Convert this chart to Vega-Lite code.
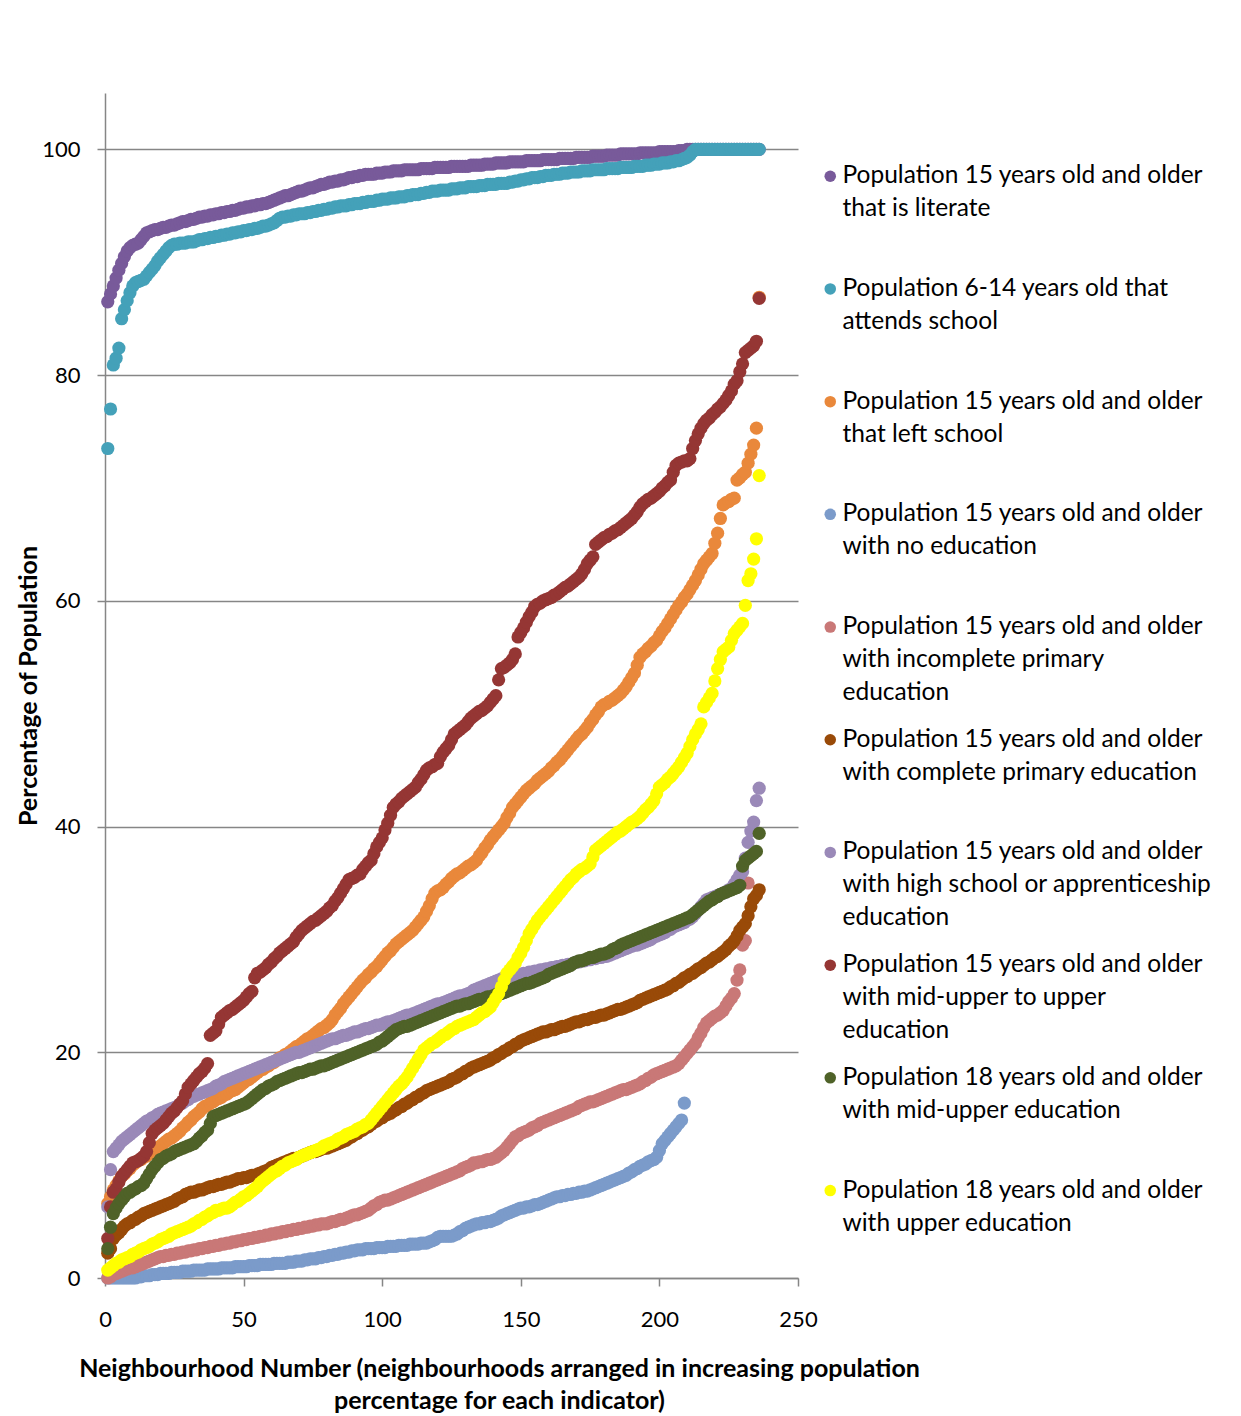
{
  "$schema": "https://vega.github.io/schema/vega-lite/v6.json",
  "width": 693,
  "height": 1185,
  "autosize": "none",
  "padding": {"left": 105, "top": 93, "right": 443, "bottom": 138},
  "background": "white",
  "config": {
    "font": "Lato",
    "view": {"stroke": null},
    "axis": {
      "domainColor": "#868686", "domainWidth": 1.5,
      "tickColor": "#868686", "tickWidth": 1.5, "tickSize": 8,
      "gridColor": "#868686", "gridWidth": 1.5,
      "labelColor": "#000000", "labelFont": "Lato", "labelFontSize": 22,
      "titleColor": "#000000", "titleFont": "Lato", "titleFontSize": 25, "titleFontWeight": "bold",
      "labelOverlap": false, "labelFlush": false
    }
  },
  "data": {"values": [
    {"n":1,"a":86.5,"b":73.5,"c":6.6,"d":0,"e":0,"f":2.2,"g":6.3,"h":3.5,"i":2.6,"j":0.7},
    {"n":2,"a":87.2,"b":77.0,"c":7.2,"d":0,"e":0.1,"f":2.6,"g":9.6,"h":6.3,"i":4.5,"j":0.9},
    {"n":3,"a":87.9,"b":80.9,"c":7.8,"d":0,"e":0.3,"f":3.5,"g":11.2,"h":7.6,"i":5.7,"j":1.1},
    {"n":4,"a":88.6,"b":81.5,"c":8.2,"d":0,"e":0.4,"f":3.8,"g":11.5,"h":7.9,"i":6.2,"j":1.3},
    {"n":5,"a":89.3,"b":82.4,"c":8.6,"d":0,"e":0.5,"f":4.0,"g":11.8,"h":8.5,"i":6.6,"j":1.4},
    {"n":6,"a":89.9,"b":85.0,"c":9.0,"d":0,"e":0.6,"f":4.3,"g":12.1,"h":9.0,"i":6.9,"j":1.6},
    {"n":7,"a":90.5,"b":85.8,"c":9.2,"d":0,"e":0.7,"f":4.6,"g":12.3,"h":9.3,"i":7.2,"j":1.7},
    {"n":8,"a":91.0,"b":86.6,"c":9.5,"d":0,"e":0.8,"f":4.8,"g":12.5,"h":9.6,"i":7.5,"j":1.8},
    {"n":9,"a":91.3,"b":87.3,"c":9.7,"d":0,"e":0.9,"f":4.9,"g":12.7,"h":9.9,"i":7.6,"j":1.9},
    {"n":10,"a":91.5,"b":87.9,"c":10.0,"d":0,"e":0.9,"f":5.1,"g":12.9,"h":10.2,"i":7.8,"j":2.1},
    {"n":11,"a":91.6,"b":88.2,"c":10.2,"d":0,"e":1.0,"f":5.2,"g":13.1,"h":10.3,"i":7.9,"j":2.2},
    {"n":12,"a":91.7,"b":88.3,"c":10.4,"d":0.1,"e":1.1,"f":5.4,"g":13.3,"h":10.4,"i":8.1,"j":2.3},
    {"n":13,"a":92.0,"b":88.4,"c":10.5,"d":0.1,"e":1.2,"f":5.5,"g":13.5,"h":10.6,"i":8.2,"j":2.5},
    {"n":14,"a":92.3,"b":88.5,"c":10.7,"d":0.2,"e":1.3,"f":5.7,"g":13.7,"h":10.8,"i":8.4,"j":2.6},
    {"n":15,"a":92.6,"b":88.8,"c":10.8,"d":0.2,"e":1.4,"f":5.8,"g":13.9,"h":11.2,"i":8.8,"j":2.7},
    {"n":16,"a":92.7,"b":89.1,"c":11.0,"d":0.2,"e":1.5,"f":5.9,"g":14.0,"h":12.0,"i":9.2,"j":2.8},
    {"n":17,"a":92.8,"b":89.4,"c":11.2,"d":0.3,"e":1.6,"f":6.0,"g":14.2,"h":12.8,"i":9.6,"j":3.0},
    {"n":18,"a":92.9,"b":89.7,"c":11.3,"d":0.3,"e":1.7,"f":6.1,"g":14.3,"h":13.1,"i":9.9,"j":3.1},
    {"n":19,"a":92.9,"b":90.1,"c":11.5,"d":0.3,"e":1.8,"f":6.2,"g":14.5,"h":13.3,"i":10.2,"j":3.2},
    {"n":20,"a":93.0,"b":90.4,"c":11.7,"d":0.4,"e":1.9,"f":6.3,"g":14.6,"h":13.5,"i":10.5,"j":3.4},
    {"n":21,"a":93.1,"b":90.7,"c":11.9,"d":0.4,"e":1.9,"f":6.4,"g":14.7,"h":13.7,"i":10.6,"j":3.5},
    {"n":22,"a":93.1,"b":91.0,"c":12.1,"d":0.4,"e":2.0,"f":6.5,"g":14.8,"h":14.0,"i":10.8,"j":3.6},
    {"n":23,"a":93.2,"b":91.3,"c":12.3,"d":0.4,"e":2.0,"f":6.6,"g":14.9,"h":14.3,"i":10.9,"j":3.7},
    {"n":24,"a":93.3,"b":91.5,"c":12.4,"d":0.5,"e":2.1,"f":6.7,"g":15.0,"h":14.6,"i":11.0,"j":3.9},
    {"n":25,"a":93.3,"b":91.6,"c":12.6,"d":0.5,"e":2.1,"f":6.8,"g":15.1,"h":14.8,"i":11.2,"j":4.0},
    {"n":26,"a":93.4,"b":91.6,"c":12.8,"d":0.5,"e":2.2,"f":7.0,"g":15.2,"h":15.1,"i":11.3,"j":4.1},
    {"n":27,"a":93.5,"b":91.7,"c":13.0,"d":0.5,"e":2.2,"f":7.1,"g":15.4,"h":15.4,"i":11.4,"j":4.2},
    {"n":28,"a":93.6,"b":91.7,"c":13.3,"d":0.6,"e":2.3,"f":7.2,"g":15.5,"h":15.7,"i":11.5,"j":4.3},
    {"n":29,"a":93.6,"b":91.7,"c":13.5,"d":0.6,"e":2.3,"f":7.4,"g":15.7,"h":16.3,"i":11.6,"j":4.4},
    {"n":30,"a":93.7,"b":91.8,"c":13.8,"d":0.6,"e":2.4,"f":7.5,"g":15.8,"h":16.9,"i":11.7,"j":4.5},
    {"n":31,"a":93.8,"b":91.8,"c":14.0,"d":0.6,"e":2.4,"f":7.6,"g":16.0,"h":17.2,"i":11.8,"j":4.6},
    {"n":32,"a":93.8,"b":91.8,"c":14.3,"d":0.7,"e":2.5,"f":7.6,"g":16.1,"h":17.5,"i":11.9,"j":4.8},
    {"n":33,"a":93.9,"b":91.9,"c":14.5,"d":0.7,"e":2.5,"f":7.7,"g":16.2,"h":17.8,"i":12.1,"j":4.9},
    {"n":34,"a":94.0,"b":92.0,"c":14.7,"d":0.7,"e":2.6,"f":7.8,"g":16.3,"h":18.1,"i":12.4,"j":5.1},
    {"n":35,"a":94.0,"b":92.0,"c":15.0,"d":0.7,"e":2.6,"f":7.8,"g":16.4,"h":18.3,"i":12.6,"j":5.2},
    {"n":36,"a":94.1,"b":92.1,"c":15.2,"d":0.7,"e":2.7,"f":7.9,"g":16.5,"h":18.6,"i":12.9,"j":5.4},
    {"n":37,"a":94.1,"b":92.1,"c":15.3,"d":0.8,"e":2.7,"f":8.0,"g":16.6,"h":19.0,"i":13.1,"j":5.5},
    {"n":38,"a":94.2,"b":92.2,"c":15.5,"d":0.8,"e":2.8,"f":8.1,"g":16.7,"h":21.5,"i":13.7,"j":5.7},
    {"n":39,"a":94.2,"b":92.2,"c":15.6,"d":0.8,"e":2.8,"f":8.1,"g":16.8,"h":21.7,"i":14.3,"j":5.8},
    {"n":40,"a":94.3,"b":92.3,"c":15.8,"d":0.8,"e":2.9,"f":8.2,"g":17.0,"h":21.9,"i":14.4,"j":6.0},
    {"n":41,"a":94.3,"b":92.3,"c":15.9,"d":0.8,"e":2.9,"f":8.3,"g":17.1,"h":22.5,"i":14.5,"j":6.0},
    {"n":42,"a":94.4,"b":92.4,"c":16.0,"d":0.9,"e":3.0,"f":8.3,"g":17.2,"h":23.1,"i":14.6,"j":6.1},
    {"n":43,"a":94.4,"b":92.4,"c":16.2,"d":0.9,"e":3.0,"f":8.4,"g":17.4,"h":23.3,"i":14.7,"j":6.2},
    {"n":44,"a":94.5,"b":92.5,"c":16.3,"d":0.9,"e":3.1,"f":8.5,"g":17.5,"h":23.5,"i":14.8,"j":6.2},
    {"n":45,"a":94.5,"b":92.5,"c":16.5,"d":0.9,"e":3.1,"f":8.5,"g":17.6,"h":23.7,"i":14.9,"j":6.3},
    {"n":46,"a":94.6,"b":92.6,"c":16.6,"d":0.9,"e":3.2,"f":8.6,"g":17.7,"h":23.8,"i":15.0,"j":6.5},
    {"n":47,"a":94.6,"b":92.6,"c":16.7,"d":1.0,"e":3.2,"f":8.7,"g":17.8,"h":24.0,"i":15.1,"j":6.7},
    {"n":48,"a":94.7,"b":92.7,"c":16.9,"d":1.0,"e":3.3,"f":8.8,"g":17.9,"h":24.2,"i":15.2,"j":6.8},
    {"n":49,"a":94.8,"b":92.7,"c":17.1,"d":1.0,"e":3.3,"f":8.8,"g":18.0,"h":24.4,"i":15.3,"j":7.0},
    {"n":50,"a":94.8,"b":92.8,"c":17.3,"d":1.0,"e":3.4,"f":8.9,"g":18.1,"h":24.6,"i":15.4,"j":7.2},
    {"n":51,"a":94.9,"b":92.8,"c":17.5,"d":1.0,"e":3.4,"f":8.9,"g":18.2,"h":24.9,"i":15.5,"j":7.3},
    {"n":52,"a":94.9,"b":92.9,"c":17.6,"d":1.1,"e":3.5,"f":9.0,"g":18.3,"h":25.2,"i":15.7,"j":7.5},
    {"n":53,"a":95.0,"b":92.9,"c":17.8,"d":1.1,"e":3.5,"f":9.1,"g":18.4,"h":25.4,"i":15.9,"j":7.7},
    {"n":54,"a":95.0,"b":93.0,"c":18.0,"d":1.1,"e":3.6,"f":9.1,"g":18.5,"h":26.6,"i":16.1,"j":7.9},
    {"n":55,"a":95.1,"b":93.0,"c":18.2,"d":1.1,"e":3.6,"f":9.2,"g":18.6,"h":27.0,"i":16.3,"j":8.1},
    {"n":56,"a":95.1,"b":93.1,"c":18.4,"d":1.2,"e":3.7,"f":9.3,"g":18.7,"h":27.1,"i":16.5,"j":8.4},
    {"n":57,"a":95.2,"b":93.2,"c":18.5,"d":1.2,"e":3.7,"f":9.4,"g":18.8,"h":27.3,"i":16.7,"j":8.6},
    {"n":58,"a":95.2,"b":93.2,"c":18.7,"d":1.2,"e":3.8,"f":9.5,"g":18.9,"h":27.5,"i":16.8,"j":8.8},
    {"n":59,"a":95.3,"b":93.3,"c":18.8,"d":1.2,"e":3.8,"f":9.6,"g":19.0,"h":27.8,"i":17.0,"j":9.0},
    {"n":60,"a":95.4,"b":93.4,"c":19.0,"d":1.2,"e":3.9,"f":9.8,"g":19.1,"h":28.0,"i":17.1,"j":9.2},
    {"n":61,"a":95.5,"b":93.5,"c":19.1,"d":1.3,"e":3.9,"f":9.9,"g":19.2,"h":28.3,"i":17.2,"j":9.4},
    {"n":62,"a":95.6,"b":93.7,"c":19.3,"d":1.3,"e":4.0,"f":10.0,"g":19.3,"h":28.5,"i":17.4,"j":9.5},
    {"n":63,"a":95.7,"b":93.9,"c":19.5,"d":1.3,"e":4.0,"f":10.1,"g":19.4,"h":28.8,"i":17.5,"j":9.7},
    {"n":64,"a":95.8,"b":94.0,"c":19.6,"d":1.3,"e":4.1,"f":10.2,"g":19.5,"h":29.0,"i":17.6,"j":9.9},
    {"n":65,"a":95.9,"b":94.0,"c":19.8,"d":1.3,"e":4.1,"f":10.3,"g":19.6,"h":29.2,"i":17.7,"j":10.0},
    {"n":66,"a":95.9,"b":94.1,"c":19.9,"d":1.4,"e":4.2,"f":10.4,"g":19.7,"h":29.4,"i":17.8,"j":10.2},
    {"n":67,"a":96.0,"b":94.1,"c":20.1,"d":1.4,"e":4.2,"f":10.5,"g":19.8,"h":29.6,"i":17.9,"j":10.3},
    {"n":68,"a":96.1,"b":94.2,"c":20.3,"d":1.4,"e":4.3,"f":10.6,"g":19.9,"h":29.8,"i":18.0,"j":10.4},
    {"n":69,"a":96.2,"b":94.2,"c":20.5,"d":1.5,"e":4.3,"f":10.6,"g":20.0,"h":30.2,"i":18.1,"j":10.5},
    {"n":70,"a":96.3,"b":94.3,"c":20.6,"d":1.5,"e":4.4,"f":10.7,"g":20.0,"h":30.5,"i":18.2,"j":10.7},
    {"n":71,"a":96.3,"b":94.3,"c":20.8,"d":1.5,"e":4.4,"f":10.8,"g":20.1,"h":30.8,"i":18.2,"j":10.8},
    {"n":72,"a":96.4,"b":94.3,"c":21.0,"d":1.6,"e":4.5,"f":10.9,"g":20.2,"h":31.0,"i":18.3,"j":10.9},
    {"n":73,"a":96.5,"b":94.4,"c":21.2,"d":1.6,"e":4.5,"f":11.0,"g":20.3,"h":31.2,"i":18.4,"j":11.0},
    {"n":74,"a":96.6,"b":94.4,"c":21.3,"d":1.7,"e":4.6,"f":11.1,"g":20.4,"h":31.4,"i":18.5,"j":11.1},
    {"n":75,"a":96.6,"b":94.5,"c":21.5,"d":1.7,"e":4.6,"f":11.2,"g":20.5,"h":31.6,"i":18.5,"j":11.2},
    {"n":76,"a":96.7,"b":94.5,"c":21.7,"d":1.7,"e":4.7,"f":11.2,"g":20.6,"h":31.7,"i":18.6,"j":11.3},
    {"n":77,"a":96.8,"b":94.6,"c":21.9,"d":1.8,"e":4.7,"f":11.3,"g":20.7,"h":31.9,"i":18.7,"j":11.4},
    {"n":78,"a":96.9,"b":94.6,"c":22.1,"d":1.8,"e":4.8,"f":11.4,"g":20.8,"h":32.1,"i":18.8,"j":11.5},
    {"n":79,"a":96.9,"b":94.7,"c":22.2,"d":1.9,"e":4.8,"f":11.5,"g":20.9,"h":32.3,"i":18.8,"j":11.7},
    {"n":80,"a":97.0,"b":94.7,"c":22.4,"d":1.9,"e":4.8,"f":11.5,"g":21.0,"h":32.5,"i":18.9,"j":11.8},
    {"n":81,"a":97.1,"b":94.8,"c":22.6,"d":2.0,"e":4.9,"f":11.6,"g":21.1,"h":32.8,"i":19.0,"j":11.9},
    {"n":82,"a":97.1,"b":94.8,"c":22.9,"d":2.0,"e":5.0,"f":11.7,"g":21.2,"h":33.0,"i":19.1,"j":12.0},
    {"n":83,"a":97.2,"b":94.9,"c":23.3,"d":2.1,"e":5.0,"f":11.8,"g":21.2,"h":33.4,"i":19.2,"j":12.1},
    {"n":84,"a":97.2,"b":94.9,"c":23.6,"d":2.1,"e":5.1,"f":11.9,"g":21.3,"h":33.7,"i":19.3,"j":12.3},
    {"n":85,"a":97.3,"b":95.0,"c":23.9,"d":2.2,"e":5.2,"f":12.0,"g":21.4,"h":34.1,"i":19.4,"j":12.4},
    {"n":86,"a":97.3,"b":95.0,"c":24.3,"d":2.2,"e":5.2,"f":12.1,"g":21.5,"h":34.5,"i":19.5,"j":12.5},
    {"n":87,"a":97.4,"b":95.0,"c":24.6,"d":2.3,"e":5.3,"f":12.2,"g":21.5,"h":34.9,"i":19.6,"j":12.7},
    {"n":88,"a":97.5,"b":95.1,"c":24.9,"d":2.3,"e":5.4,"f":12.4,"g":21.6,"h":35.3,"i":19.7,"j":12.8},
    {"n":89,"a":97.5,"b":95.1,"c":25.2,"d":2.4,"e":5.5,"f":12.5,"g":21.7,"h":35.4,"i":19.8,"j":12.9},
    {"n":90,"a":97.6,"b":95.2,"c":25.5,"d":2.4,"e":5.6,"f":12.7,"g":21.8,"h":35.5,"i":19.9,"j":13.0},
    {"n":91,"a":97.6,"b":95.2,"c":25.8,"d":2.5,"e":5.6,"f":12.8,"g":21.8,"h":35.7,"i":20.0,"j":13.2},
    {"n":92,"a":97.7,"b":95.2,"c":26.1,"d":2.5,"e":5.7,"f":13.0,"g":21.9,"h":35.8,"i":20.1,"j":13.3},
    {"n":93,"a":97.7,"b":95.3,"c":26.4,"d":2.5,"e":5.8,"f":13.1,"g":22.0,"h":36.2,"i":20.2,"j":13.4},
    {"n":94,"a":97.8,"b":95.3,"c":26.6,"d":2.6,"e":5.9,"f":13.3,"g":22.1,"h":36.5,"i":20.3,"j":13.6},
    {"n":95,"a":97.8,"b":95.4,"c":26.9,"d":2.6,"e":6.0,"f":13.4,"g":22.1,"h":36.8,"i":20.4,"j":13.7},
    {"n":96,"a":97.8,"b":95.4,"c":27.1,"d":2.6,"e":6.2,"f":13.6,"g":22.2,"h":37.0,"i":20.5,"j":14.0},
    {"n":97,"a":97.8,"b":95.4,"c":27.4,"d":2.6,"e":6.4,"f":13.8,"g":22.3,"h":37.6,"i":20.6,"j":14.3},
    {"n":98,"a":97.9,"b":95.5,"c":27.6,"d":2.7,"e":6.5,"f":13.9,"g":22.4,"h":38.2,"i":20.7,"j":14.6},
    {"n":99,"a":97.9,"b":95.5,"c":27.9,"d":2.7,"e":6.7,"f":14.1,"g":22.4,"h":38.6,"i":20.9,"j":14.9},
    {"n":100,"a":97.9,"b":95.6,"c":28.2,"d":2.7,"e":6.8,"f":14.2,"g":22.5,"h":39.0,"i":21.0,"j":15.2},
    {"n":101,"a":98.0,"b":95.6,"c":28.5,"d":2.7,"e":6.9,"f":14.4,"g":22.6,"h":39.7,"i":21.2,"j":15.5},
    {"n":102,"a":98.0,"b":95.6,"c":28.8,"d":2.8,"e":6.9,"f":14.5,"g":22.7,"h":40.3,"i":21.4,"j":15.8},
    {"n":103,"a":98.0,"b":95.7,"c":29.0,"d":2.8,"e":7.0,"f":14.6,"g":22.7,"h":41.0,"i":21.6,"j":16.1},
    {"n":104,"a":98.1,"b":95.7,"c":29.3,"d":2.8,"e":7.1,"f":14.8,"g":22.8,"h":41.7,"i":21.8,"j":16.4},
    {"n":105,"a":98.1,"b":95.7,"c":29.6,"d":2.8,"e":7.2,"f":14.9,"g":22.9,"h":42.0,"i":22.0,"j":16.7},
    {"n":106,"a":98.1,"b":95.8,"c":29.8,"d":2.9,"e":7.3,"f":15.1,"g":23.0,"h":42.2,"i":22.1,"j":17.0},
    {"n":107,"a":98.1,"b":95.8,"c":30.0,"d":2.9,"e":7.4,"f":15.2,"g":23.1,"h":42.5,"i":22.2,"j":17.2},
    {"n":108,"a":98.2,"b":95.8,"c":30.2,"d":2.9,"e":7.5,"f":15.4,"g":23.2,"h":42.7,"i":22.3,"j":17.5},
    {"n":109,"a":98.2,"b":95.9,"c":30.4,"d":2.9,"e":7.6,"f":15.5,"g":23.3,"h":42.9,"i":22.3,"j":17.8},
    {"n":110,"a":98.2,"b":95.9,"c":30.6,"d":3.0,"e":7.7,"f":15.7,"g":23.3,"h":43.1,"i":22.4,"j":18.2},
    {"n":111,"a":98.2,"b":96.0,"c":30.8,"d":3.0,"e":7.8,"f":15.8,"g":23.4,"h":43.3,"i":22.5,"j":18.6},
    {"n":112,"a":98.2,"b":96.0,"c":31.1,"d":3.0,"e":7.9,"f":16.0,"g":23.5,"h":43.5,"i":22.6,"j":19.0},
    {"n":113,"a":98.2,"b":96.0,"c":31.4,"d":3.0,"e":8.0,"f":16.1,"g":23.6,"h":43.9,"i":22.7,"j":19.4},
    {"n":114,"a":98.3,"b":96.1,"c":31.7,"d":3.1,"e":8.1,"f":16.3,"g":23.7,"h":44.2,"i":22.8,"j":19.8},
    {"n":115,"a":98.3,"b":96.1,"c":32.0,"d":3.1,"e":8.2,"f":16.4,"g":23.8,"h":44.6,"i":22.9,"j":20.2},
    {"n":116,"a":98.3,"b":96.2,"c":32.5,"d":3.1,"e":8.3,"f":16.6,"g":23.9,"h":45.0,"i":23.0,"j":20.4},
    {"n":117,"a":98.3,"b":96.2,"c":33.0,"d":3.2,"e":8.4,"f":16.7,"g":24.0,"h":45.2,"i":23.1,"j":20.6},
    {"n":118,"a":98.3,"b":96.3,"c":33.6,"d":3.3,"e":8.5,"f":16.8,"g":24.1,"h":45.3,"i":23.2,"j":20.8},
    {"n":119,"a":98.4,"b":96.3,"c":34.1,"d":3.4,"e":8.6,"f":16.9,"g":24.2,"h":45.5,"i":23.3,"j":20.9},
    {"n":120,"a":98.4,"b":96.3,"c":34.3,"d":3.6,"e":8.7,"f":17.0,"g":24.3,"h":45.6,"i":23.4,"j":21.1},
    {"n":121,"a":98.4,"b":96.4,"c":34.4,"d":3.7,"e":8.8,"f":17.1,"g":24.3,"h":46.2,"i":23.5,"j":21.3},
    {"n":122,"a":98.4,"b":96.4,"c":34.6,"d":3.7,"e":8.9,"f":17.2,"g":24.4,"h":46.6,"i":23.6,"j":21.5},
    {"n":123,"a":98.4,"b":96.4,"c":34.9,"d":3.7,"e":9.0,"f":17.3,"g":24.5,"h":46.9,"i":23.7,"j":21.6},
    {"n":124,"a":98.4,"b":96.4,"c":35.1,"d":3.7,"e":9.1,"f":17.4,"g":24.6,"h":47.2,"i":23.8,"j":21.8},
    {"n":125,"a":98.5,"b":96.5,"c":35.4,"d":3.7,"e":9.2,"f":17.6,"g":24.7,"h":47.7,"i":23.9,"j":22.0},
    {"n":126,"a":98.5,"b":96.5,"c":35.6,"d":3.8,"e":9.3,"f":17.7,"g":24.8,"h":48.2,"i":24.0,"j":22.1},
    {"n":127,"a":98.5,"b":96.5,"c":35.8,"d":3.9,"e":9.4,"f":17.8,"g":24.9,"h":48.4,"i":24.1,"j":22.3},
    {"n":128,"a":98.5,"b":96.6,"c":35.9,"d":4.1,"e":9.5,"f":18.0,"g":25.0,"h":48.6,"i":24.1,"j":22.4},
    {"n":129,"a":98.5,"b":96.6,"c":36.1,"d":4.2,"e":9.7,"f":18.1,"g":25.0,"h":48.8,"i":24.2,"j":22.5},
    {"n":130,"a":98.5,"b":96.6,"c":36.3,"d":4.4,"e":9.8,"f":18.3,"g":25.1,"h":49.0,"i":24.3,"j":22.6},
    {"n":131,"a":98.5,"b":96.7,"c":36.5,"d":4.5,"e":9.9,"f":18.4,"g":25.2,"h":49.3,"i":24.3,"j":22.7},
    {"n":132,"a":98.6,"b":96.7,"c":36.6,"d":4.6,"e":10.0,"f":18.6,"g":25.3,"h":49.6,"i":24.4,"j":22.8},
    {"n":133,"a":98.6,"b":96.7,"c":36.8,"d":4.7,"e":10.2,"f":18.7,"g":25.5,"h":49.8,"i":24.5,"j":22.9},
    {"n":134,"a":98.6,"b":96.7,"c":37.0,"d":4.8,"e":10.2,"f":18.8,"g":25.6,"h":50.0,"i":24.6,"j":23.1},
    {"n":135,"a":98.6,"b":96.8,"c":37.4,"d":4.8,"e":10.3,"f":18.9,"g":25.7,"h":50.2,"i":24.7,"j":23.3},
    {"n":136,"a":98.6,"b":96.8,"c":37.7,"d":4.9,"e":10.3,"f":19.0,"g":25.8,"h":50.3,"i":24.7,"j":23.5},
    {"n":137,"a":98.7,"b":96.8,"c":38.1,"d":4.9,"e":10.4,"f":19.1,"g":25.9,"h":50.5,"i":24.8,"j":23.6},
    {"n":138,"a":98.7,"b":96.9,"c":38.4,"d":5.0,"e":10.5,"f":19.2,"g":26.0,"h":50.7,"i":24.9,"j":23.8},
    {"n":139,"a":98.7,"b":96.9,"c":38.8,"d":5.0,"e":10.5,"f":19.3,"g":26.1,"h":51.0,"i":24.9,"j":24.0},
    {"n":140,"a":98.7,"b":96.9,"c":39.1,"d":5.1,"e":10.6,"f":19.5,"g":26.2,"h":51.3,"i":25.0,"j":24.4},
    {"n":141,"a":98.8,"b":96.9,"c":39.4,"d":5.2,"e":10.7,"f":19.6,"g":26.3,"h":51.6,"i":25.1,"j":24.8},
    {"n":142,"a":98.8,"b":97.0,"c":39.7,"d":5.3,"e":10.9,"f":19.8,"g":26.4,"h":53.0,"i":25.2,"j":25.2},
    {"n":143,"a":98.8,"b":97.0,"c":40.0,"d":5.5,"e":11.1,"f":19.9,"g":26.5,"h":54.0,"i":25.2,"j":25.8},
    {"n":144,"a":98.8,"b":97.0,"c":40.3,"d":5.6,"e":11.3,"f":20.1,"g":26.6,"h":54.1,"i":25.3,"j":26.4},
    {"n":145,"a":98.8,"b":97.0,"c":40.8,"d":5.7,"e":11.6,"f":20.2,"g":26.7,"h":54.3,"i":25.4,"j":27.0},
    {"n":146,"a":98.9,"b":97.1,"c":41.2,"d":5.8,"e":11.9,"f":20.4,"g":26.7,"h":54.5,"i":25.5,"j":27.3},
    {"n":147,"a":98.9,"b":97.1,"c":41.7,"d":5.9,"e":12.2,"f":20.5,"g":26.8,"h":54.8,"i":25.6,"j":27.6},
    {"n":148,"a":98.9,"b":97.2,"c":42.0,"d":6.0,"e":12.5,"f":20.7,"g":26.8,"h":55.3,"i":25.7,"j":27.9},
    {"n":149,"a":98.9,"b":97.2,"c":42.3,"d":6.1,"e":12.6,"f":20.8,"g":26.9,"h":56.8,"i":25.8,"j":28.4},
    {"n":150,"a":98.9,"b":97.3,"c":42.6,"d":6.2,"e":12.8,"f":21.0,"g":26.9,"h":57.2,"i":25.9,"j":28.8},
    {"n":151,"a":98.9,"b":97.3,"c":42.9,"d":6.2,"e":12.9,"f":21.1,"g":27.0,"h":57.6,"i":26.0,"j":29.3},
    {"n":152,"a":99.0,"b":97.4,"c":43.2,"d":6.3,"e":13.0,"f":21.2,"g":27.0,"h":58.1,"i":26.1,"j":29.9},
    {"n":153,"a":99.0,"b":97.4,"c":43.4,"d":6.3,"e":13.1,"f":21.3,"g":27.1,"h":58.6,"i":26.1,"j":30.5},
    {"n":154,"a":99.0,"b":97.5,"c":43.6,"d":6.4,"e":13.3,"f":21.4,"g":27.1,"h":59.0,"i":26.2,"j":30.9},
    {"n":155,"a":99.0,"b":97.5,"c":43.8,"d":6.5,"e":13.4,"f":21.5,"g":27.2,"h":59.5,"i":26.3,"j":31.3},
    {"n":156,"a":99.0,"b":97.5,"c":44.1,"d":6.5,"e":13.5,"f":21.6,"g":27.2,"h":59.7,"i":26.4,"j":31.7},
    {"n":157,"a":99.0,"b":97.6,"c":44.3,"d":6.6,"e":13.7,"f":21.7,"g":27.3,"h":59.8,"i":26.5,"j":32.0},
    {"n":158,"a":99.1,"b":97.6,"c":44.5,"d":6.7,"e":13.8,"f":21.8,"g":27.3,"h":60.0,"i":26.6,"j":32.3},
    {"n":159,"a":99.1,"b":97.7,"c":44.7,"d":6.8,"e":13.9,"f":21.8,"g":27.4,"h":60.1,"i":26.7,"j":32.6},
    {"n":160,"a":99.1,"b":97.7,"c":44.9,"d":6.9,"e":14.0,"f":21.9,"g":27.4,"h":60.2,"i":26.9,"j":32.9},
    {"n":161,"a":99.1,"b":97.7,"c":45.2,"d":7.0,"e":14.1,"f":22.0,"g":27.5,"h":60.3,"i":27.0,"j":33.2},
    {"n":162,"a":99.1,"b":97.8,"c":45.4,"d":7.1,"e":14.2,"f":22.0,"g":27.5,"h":60.5,"i":27.1,"j":33.5},
    {"n":163,"a":99.1,"b":97.8,"c":45.7,"d":7.2,"e":14.3,"f":22.1,"g":27.6,"h":60.6,"i":27.2,"j":33.8},
    {"n":164,"a":99.2,"b":97.8,"c":45.9,"d":7.2,"e":14.4,"f":22.2,"g":27.6,"h":60.8,"i":27.3,"j":34.1},
    {"n":165,"a":99.2,"b":97.9,"c":46.2,"d":7.3,"e":14.5,"f":22.3,"g":27.7,"h":61.0,"i":27.4,"j":34.4},
    {"n":166,"a":99.2,"b":97.9,"c":46.5,"d":7.3,"e":14.6,"f":22.3,"g":27.7,"h":61.2,"i":27.5,"j":34.7},
    {"n":167,"a":99.2,"b":97.9,"c":46.8,"d":7.4,"e":14.7,"f":22.4,"g":27.8,"h":61.3,"i":27.6,"j":35.0},
    {"n":168,"a":99.2,"b":98.0,"c":47.1,"d":7.4,"e":14.8,"f":22.5,"g":27.8,"h":61.5,"i":27.7,"j":35.3},
    {"n":169,"a":99.2,"b":98.0,"c":47.4,"d":7.5,"e":14.9,"f":22.6,"g":27.9,"h":61.7,"i":27.9,"j":35.5},
    {"n":170,"a":99.3,"b":98.0,"c":47.7,"d":7.5,"e":15.0,"f":22.7,"g":28.0,"h":61.9,"i":28.0,"j":35.8},
    {"n":171,"a":99.3,"b":98.0,"c":48.0,"d":7.6,"e":15.2,"f":22.7,"g":28.0,"h":62.1,"i":28.1,"j":36.0},
    {"n":172,"a":99.3,"b":98.1,"c":48.2,"d":7.6,"e":15.3,"f":22.8,"g":28.1,"h":62.4,"i":28.1,"j":36.2},
    {"n":173,"a":99.3,"b":98.1,"c":48.5,"d":7.7,"e":15.4,"f":22.9,"g":28.1,"h":62.8,"i":28.2,"j":36.3},
    {"n":174,"a":99.3,"b":98.1,"c":48.8,"d":7.7,"e":15.5,"f":22.9,"g":28.2,"h":63.3,"i":28.3,"j":36.5},
    {"n":175,"a":99.3,"b":98.1,"c":49.2,"d":7.8,"e":15.6,"f":23.0,"g":28.2,"h":63.6,"i":28.4,"j":36.7},
    {"n":176,"a":99.4,"b":98.2,"c":49.5,"d":7.9,"e":15.6,"f":23.1,"g":28.3,"h":63.9,"i":28.4,"j":37.3},
    {"n":177,"a":99.4,"b":98.2,"c":49.9,"d":8.0,"e":15.7,"f":23.1,"g":28.3,"h":65.0,"i":28.5,"j":37.9},
    {"n":178,"a":99.4,"b":98.2,"c":50.2,"d":8.1,"e":15.8,"f":23.2,"g":28.4,"h":65.2,"i":28.6,"j":38.1},
    {"n":179,"a":99.4,"b":98.2,"c":50.6,"d":8.2,"e":15.9,"f":23.3,"g":28.4,"h":65.4,"i":28.7,"j":38.3},
    {"n":180,"a":99.4,"b":98.2,"c":50.8,"d":8.3,"e":16.0,"f":23.3,"g":28.5,"h":65.6,"i":28.7,"j":38.5},
    {"n":181,"a":99.5,"b":98.3,"c":50.9,"d":8.4,"e":16.1,"f":23.4,"g":28.5,"h":65.7,"i":28.8,"j":38.7},
    {"n":182,"a":99.5,"b":98.3,"c":51.1,"d":8.5,"e":16.2,"f":23.5,"g":28.6,"h":65.9,"i":28.9,"j":38.9},
    {"n":183,"a":99.5,"b":98.3,"c":51.2,"d":8.6,"e":16.3,"f":23.6,"g":28.7,"h":66.0,"i":29.1,"j":39.1},
    {"n":184,"a":99.5,"b":98.3,"c":51.4,"d":8.7,"e":16.4,"f":23.7,"g":28.8,"h":66.2,"i":29.2,"j":39.3},
    {"n":185,"a":99.5,"b":98.3,"c":51.6,"d":8.8,"e":16.5,"f":23.8,"g":28.9,"h":66.3,"i":29.3,"j":39.5},
    {"n":186,"a":99.6,"b":98.4,"c":51.8,"d":8.9,"e":16.6,"f":23.8,"g":29.0,"h":66.5,"i":29.5,"j":39.6},
    {"n":187,"a":99.6,"b":98.4,"c":52.1,"d":9.0,"e":16.7,"f":23.9,"g":29.1,"h":66.7,"i":29.6,"j":39.8},
    {"n":188,"a":99.6,"b":98.4,"c":52.4,"d":9.1,"e":16.7,"f":24.0,"g":29.2,"h":66.9,"i":29.7,"j":40.0},
    {"n":189,"a":99.6,"b":98.4,"c":52.8,"d":9.3,"e":16.8,"f":24.1,"g":29.3,"h":67.1,"i":29.8,"j":40.2},
    {"n":190,"a":99.6,"b":98.4,"c":53.2,"d":9.4,"e":16.9,"f":24.2,"g":29.4,"h":67.3,"i":29.9,"j":40.4},
    {"n":191,"a":99.6,"b":98.5,"c":53.6,"d":9.6,"e":17.0,"f":24.3,"g":29.5,"h":67.6,"i":30.0,"j":40.5},
    {"n":192,"a":99.6,"b":98.5,"c":54.3,"d":9.7,"e":17.1,"f":24.4,"g":29.5,"h":67.9,"i":30.1,"j":40.7},
    {"n":193,"a":99.7,"b":98.5,"c":55.0,"d":9.9,"e":17.2,"f":24.6,"g":29.6,"h":68.3,"i":30.2,"j":40.9},
    {"n":194,"a":99.7,"b":98.5,"c":55.3,"d":10.0,"e":17.4,"f":24.7,"g":29.7,"h":68.6,"i":30.3,"j":41.2},
    {"n":195,"a":99.7,"b":98.6,"c":55.5,"d":10.1,"e":17.5,"f":24.8,"g":29.8,"h":68.8,"i":30.4,"j":41.5},
    {"n":196,"a":99.7,"b":98.6,"c":55.8,"d":10.3,"e":17.7,"f":24.9,"g":29.9,"h":69.0,"i":30.5,"j":41.7},
    {"n":197,"a":99.7,"b":98.6,"c":56.0,"d":10.4,"e":17.8,"f":25.0,"g":30.0,"h":69.1,"i":30.6,"j":42.0},
    {"n":198,"a":99.7,"b":98.7,"c":56.3,"d":10.5,"e":18.0,"f":25.1,"g":30.2,"h":69.3,"i":30.7,"j":42.3},
    {"n":199,"a":99.7,"b":98.7,"c":56.5,"d":10.7,"e":18.1,"f":25.2,"g":30.3,"h":69.5,"i":30.8,"j":42.9},
    {"n":200,"a":99.8,"b":98.7,"c":56.9,"d":11.3,"e":18.2,"f":25.3,"g":30.4,"h":69.7,"i":30.9,"j":43.5},
    {"n":201,"a":99.8,"b":98.8,"c":57.3,"d":11.9,"e":18.3,"f":25.4,"g":30.5,"h":70.0,"i":31.0,"j":43.7},
    {"n":202,"a":99.8,"b":98.8,"c":57.6,"d":12.2,"e":18.4,"f":25.5,"g":30.6,"h":70.2,"i":31.1,"j":43.9},
    {"n":203,"a":99.8,"b":98.8,"c":58.0,"d":12.5,"e":18.5,"f":25.6,"g":30.8,"h":70.5,"i":31.2,"j":44.2},
    {"n":204,"a":99.8,"b":98.9,"c":58.4,"d":12.8,"e":18.6,"f":25.8,"g":30.9,"h":70.7,"i":31.3,"j":44.4},
    {"n":205,"a":99.8,"b":98.9,"c":58.8,"d":13.1,"e":18.7,"f":25.9,"g":31.1,"h":71.4,"i":31.4,"j":44.7},
    {"n":206,"a":99.8,"b":99.0,"c":59.2,"d":13.4,"e":18.8,"f":26.1,"g":31.2,"h":72.0,"i":31.5,"j":45.0},
    {"n":207,"a":99.9,"b":99.0,"c":59.6,"d":13.7,"e":19.0,"f":26.2,"g":31.3,"h":72.2,"i":31.6,"j":45.3},
    {"n":208,"a":99.9,"b":99.1,"c":59.9,"d":14.0,"e":19.3,"f":26.4,"g":31.4,"h":72.3,"i":31.7,"j":45.7},
    {"n":209,"a":99.9,"b":99.2,"c":60.3,"d":15.5,"e":19.6,"f":26.6,"g":31.5,"h":72.4,"i":31.8,"j":46.1},
    {"n":210,"a":100,"b":99.3,"c":60.6,"e":19.9,"f":26.7,"g":31.7,"h":72.4,"i":31.9,"j":46.5},
    {"n":211,"a":100,"b":99.5,"c":61.0,"e":20.2,"f":26.9,"g":31.8,"h":72.6,"i":32.0,"j":47.1},
    {"n":212,"a":100,"b":99.8,"c":61.4,"e":20.5,"f":27.0,"g":32.0,"h":73.5,"i":32.2,"j":47.7},
    {"n":213,"a":100,"b":100,"c":61.8,"e":20.8,"f":27.2,"g":32.3,"h":74.2,"i":32.4,"j":48.2},
    {"n":214,"a":100,"b":100,"c":62.3,"e":21.3,"f":27.4,"g":32.6,"h":74.8,"i":32.6,"j":48.6},
    {"n":215,"a":100,"b":100,"c":62.8,"e":21.7,"f":27.5,"g":32.9,"h":75.3,"i":32.8,"j":49.1},
    {"n":216,"a":100,"b":100,"c":63.3,"e":22.2,"f":27.7,"g":33.2,"h":75.7,"i":33.0,"j":50.6},
    {"n":217,"a":100,"b":100,"c":63.6,"e":22.6,"f":27.9,"g":33.5,"h":76.0,"i":33.2,"j":51.0},
    {"n":218,"a":100,"b":100,"c":63.9,"e":22.8,"f":28.0,"g":33.6,"h":76.2,"i":33.4,"j":51.4},
    {"n":219,"a":100,"b":100,"c":64.2,"e":23.0,"f":28.2,"g":33.7,"h":76.5,"i":33.5,"j":51.8},
    {"n":220,"a":100,"b":100,"c":65.1,"e":23.2,"f":28.4,"g":33.8,"h":76.7,"i":33.7,"j":52.9},
    {"n":221,"a":100,"b":100,"c":66.0,"e":23.3,"f":28.5,"g":33.9,"h":77.0,"i":33.8,"j":54.0},
    {"n":222,"a":100,"b":100,"c":67.3,"e":23.5,"f":28.7,"g":34.0,"h":77.2,"i":34.0,"j":54.8},
    {"n":223,"a":100,"b":100,"c":68.5,"e":23.7,"f":28.9,"g":34.1,"h":77.5,"i":34.1,"j":55.5},
    {"n":224,"a":100,"b":100,"c":68.7,"e":24.1,"f":29.1,"g":34.2,"h":77.8,"i":34.2,"j":55.7},
    {"n":225,"a":100,"b":100,"c":68.8,"e":24.5,"f":29.4,"g":34.4,"h":78.2,"i":34.3,"j":55.9},
    {"n":226,"a":100,"b":100,"c":69.0,"e":24.8,"f":29.6,"g":34.5,"h":78.6,"i":34.4,"j":56.5},
    {"n":227,"a":100,"b":100,"c":69.1,"e":25.2,"f":29.9,"g":34.9,"h":79.2,"i":34.5,"j":57.1},
    {"n":228,"a":100,"b":100,"c":70.7,"e":26.4,"f":30.3,"g":35.3,"h":79.5,"i":34.6,"j":57.4},
    {"n":229,"a":100,"b":100,"c":70.9,"e":27.3,"f":30.8,"g":35.7,"h":80.3,"i":34.8,"j":57.7},
    {"n":230,"a":100,"b":100,"c":71.2,"e":29.5,"f":31.1,"g":36.0,"h":81.0,"i":36.5,"j":58.0},
    {"n":231,"a":100,"b":100,"c":71.4,"e":29.9,"f":31.4,"g":37.2,"h":82.0,"i":37.0,"j":59.6},
    {"n":232,"a":100,"b":100,"c":72.2,"e":35.0,"f":32.1,"g":38.6,"h":82.2,"i":37.2,"j":61.8},
    {"n":233,"a":100,"b":100,"c":73.0,"f":32.9,"g":39.6,"h":82.4,"i":37.4,"j":62.4},
    {"n":234,"a":100,"b":100,"c":73.8,"f":33.6,"g":40.4,"h":82.6,"i":37.6,"j":63.7},
    {"n":235,"a":100,"b":100,"c":75.3,"f":33.9,"g":42.3,"h":83.0,"i":37.8,"j":65.5},
    {"n":236,"a":100,"b":100,"c":86.9,"f":34.4,"g":43.4,"h":86.8,"i":39.4,"j":71.1}
  ]},
  "transform": [
    {"fold": ["a", "b", "c", "d", "e", "f", "g", "h", "i", "j"], "as": ["k", "v"]},
    {"filter": "isValid(datum.v)"},
    {"lookup": "k", "from": {"data": {"values": [
      {"k": "a", "s": "Population 15 years old and older|that is literate|"},
      {"k": "b", "s": "Population 6-14 years old that|attends school|"},
      {"k": "c", "s": "Population 15 years old and older|that left school|"},
      {"k": "d", "s": "Population 15 years old and older|with no education|"},
      {"k": "e", "s": "Population 15 years old and older|with incomplete primary|education"},
      {"k": "f", "s": "Population 15 years old and older|with complete primary education|"},
      {"k": "g", "s": "Population 15 years old and older|with high school or apprenticeship|education"},
      {"k": "h", "s": "Population 15 years old and older|with mid-upper to upper|education"},
      {"k": "i", "s": "Population 18 years old and older|with mid-upper education|"},
      {"k": "j", "s": "Population 18 years old and older|with upper education|"}
    ]}, "key": "k", "fields": ["s"]}}
  ],
  "mark": {"type": "circle", "size": 175, "opacity": 1},
  "encoding": {
    "x": {
      "field": "n", "type": "quantitative",
      "scale": {"domain": [0, 250], "nice": false, "zero": false},
      "axis": {
        "values": [0, 50, 100, 150, 200, 250], "grid": false,
        "labelPadding": 23,
        "title": ["Neighbourhood  Number (neighbourhoods arranged in increasing population", "percentage for each indicator)"],
        "titleLineHeight": 32, "titlePadding": 26, "titleX": 394, "titleAlign": "center"
      }
    },
    "y": {
      "field": "v", "type": "quantitative",
      "scale": {"domain": [0, 105], "nice": false},
      "axis": {
        "values": [0, 20, 40, 60, 80, 100], "grid": true,
        "labelPadding": 17,
        "title": "Percentage of Population", "titlePadding": 0
      }
    },
    "color": {
      "field": "s", "type": "nominal",
      "scale": {
        "domain": [
          "Population 15 years old and older|that is literate|",
          "Population 6-14 years old that|attends school|",
          "Population 15 years old and older|that left school|",
          "Population 15 years old and older|with no education|",
          "Population 15 years old and older|with incomplete primary|education",
          "Population 15 years old and older|with complete primary education|",
          "Population 15 years old and older|with high school or apprenticeship|education",
          "Population 15 years old and older|with mid-upper to upper|education",
          "Population 18 years old and older|with mid-upper education|",
          "Population 18 years old and older|with upper education|"
        ],
        "range": ["#785a9a", "#44a1b9", "#e9883b", "#7b9bca", "#c97877", "#994a08", "#9a89b8", "#953634", "#4f6228", "#ffff00"]
      },
      "legend": {
        "orient": "none", "legendX": 713, "legendY": 71,
        "title": null,
        "labelExpr": "split(datum.label, '|')",
        "labelFont": "Lato", "labelFontSize": 24.5, "labelColor": "#000000",
        "labelBaseline": "middle", "labelLimit": 0, "labelOffset": 0,
        "symbolType": "circle", "symbolSize": 133, "symbolStrokeWidth": 0, "symbolOpacity": 1,
        "rowPadding": 21.7, "padding": 0,
        "encode": {"labels": {"update": {"lineHeight": {"value": 33}}}}
      }
    },
    "order": {"field": "k", "type": "ordinal"}
  }
}
